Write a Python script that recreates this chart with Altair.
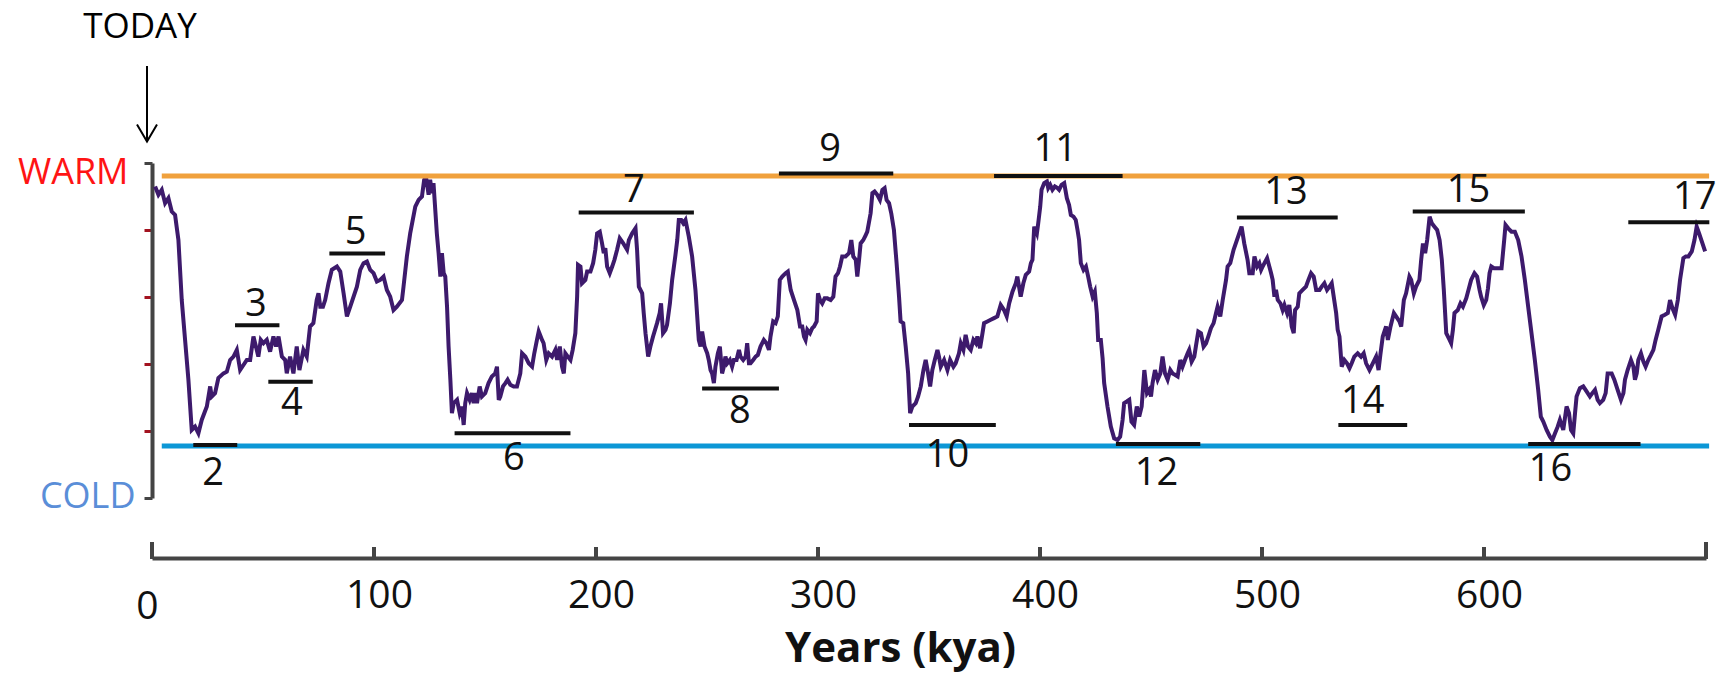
import altair as alt
import pandas as pd

# ---- Climate proxy curve: (kya, relative warmth; 0 = COLD ... 100 = WARM)
curve_0_117 = [
    (1.4, 93.0), (2.9, 90.5), (4.4, 92.0), (5.9, 88.0), (7.4, 89.5), (8.9, 85.5), (10.4, 84.5), (11.1, 81.0), (11.9, 77.0), (13.4, 59.1),
    (14.9, 47.2), (16.4, 35.3), (17.9, 20.3), (19.4, 21.3), (20.9, 19.3), (22.4, 23.3), (24.7, 27.3), (26.2, 33.3), (26.9, 30.3), (28.4, 31.3),
    (29.9, 35.8), (32.2, 37.2), (33.7, 37.7), (35.2, 41.2), (36.7, 42.2), (38.2, 44.2), (39.7, 38.2), (41.2, 39.7), (42.7, 41.2), (44.2, 41.2),
    (45.7, 48.2), (47.2, 44.2), (47.9, 42.2), (49.0, 47.2), (50.2, 46.2), (51.7, 47.2), (53.2, 43.7), (54.7, 48.2), (55.9, 45.2), (57.0, 48.2),
    (58.5, 42.2), (60.0, 41.2), (60.7, 37.2), (62.2, 42.2), (63.7, 37.2), (65.2, 45.2), (66.4, 38.2), (68.2, 44.2), (69.7, 42.2), (71.2, 51.2),
    (72.7, 52.2), (74.2, 59.1), (75.0, 61.1), (75.8, 57.1), (77.0, 57.1), (78.0, 59.1), (79.5, 64.1), (81.0, 68.1), (83.3, 69.1), (84.8, 67.6),
    (86.3, 61.1), (87.8, 54.2), (89.3, 57.1), (92.3, 63.1), (93.8, 68.1), (95.3, 70.1), (96.8, 70.6), (98.3, 68.1), (99.8, 67.1), (101.3, 64.6),
    (102.8, 65.1), (104.3, 66.1), (105.8, 62.1), (107.3, 60.1), (108.8, 56.1), (110.3, 57.1), (112.6, 59.1), (113.3, 63.1), (114.8, 72.1), (116.3, 79.0),
]
curve_118_240 = [
    (118.6, 87.0), (120.1, 89.0), (121.6, 90.0), (122.6, 95.0), (123.5, 95.5), (124.6, 90.5), (125.3, 95.0), (126.1, 91.0), (126.8, 94.0), (128.3, 79.0),
    (129.1, 73.1), (129.9, 66.1), (130.6, 73.1), (131.4, 67.1), (132.1, 66.1), (132.9, 57.1), (133.6, 45.2), (134.4, 35.3), (135.1, 25.3), (135.9, 28.3),
    (137.4, 29.3), (138.6, 25.3), (139.6, 27.3), (140.4, 21.8), (141.1, 28.3), (141.9, 31.3), (143.1, 29.3), (144.1, 31.3), (144.9, 28.3), (145.6, 31.3),
    (146.4, 28.3), (147.6, 33.3), (148.6, 30.3), (150.1, 31.3), (151.6, 34.3), (153.1, 36.3), (154.6, 37.2), (155.4, 39.2), (156.2, 29.3), (156.9, 30.3),
    (158.1, 33.3), (159.2, 34.3), (160.2, 35.3), (161.4, 33.8), (162.9, 33.3), (164.4, 33.3), (165.9, 37.2), (166.7, 43.2), (168.2, 42.2), (169.7, 40.2),
    (171.2, 39.2), (172.2, 43.2), (173.4, 47.2), (174.2, 49.7), (175.7, 47.2), (176.4, 46.2), (177.6, 41.2), (178.7, 43.2), (180.2, 42.2), (181.7, 44.2),
    (182.5, 41.2), (183.7, 45.2), (184.7, 39.2), (185.5, 37.2), (186.2, 43.2), (187.3, 42.2), (188.5, 41.2), (189.5, 44.2), (190.7, 49.2), (191.5, 60.1),
    (191.9, 69.6), (193.0, 69.1), (193.7, 64.1), (195.2, 65.1), (196.0, 67.6), (197.5, 67.6), (198.7, 70.1), (199.7, 74.1), (200.5, 79.0), (201.7, 79.5),
    (202.7, 76.1), (203.5, 73.1), (204.2, 74.6), (205.0, 69.1), (206.2, 67.1), (207.3, 69.1), (208.3, 71.1), (209.5, 74.1), (210.7, 77.5), (212.2, 76.1),
    (214.0, 74.1), (214.8, 77.0), (216.3, 79.0), (217.8, 80.5), (218.5, 74.1), (219.3, 63.1), (220.8, 61.1), (221.5, 55.2), (222.3, 49.2), (223.5, 42.2),
    (224.5, 45.2), (225.7, 48.2), (227.5, 52.2), (228.7, 55.2), (229.3, 58.1), (230.2, 49.2), (231.3, 50.2), (232.0, 51.7), (233.3, 58.1), (234.3, 65.1),
    (235.8, 72.6), (236.6, 77.0), (237.3, 83.0), (238.4, 83.0), (239.3, 82.0), (240.3, 83.0),
]
curve_241_365 = [
    (241.8, 78.0), (243.3, 72.1), (244.8, 62.1), (246.3, 47.2), (247.1, 45.2), (247.8, 49.7), (248.9, 45.2), (250.1, 43.2), (250.8, 41.2), (251.6, 38.2),
    (252.3, 37.2), (253.1, 34.3), (253.8, 39.2), (254.9, 43.2), (255.8, 45.2), (256.8, 37.2), (257.6, 39.2), (258.3, 42.2), (259.1, 40.2), (260.3, 41.2),
    (261.3, 39.2), (262.1, 41.2), (263.3, 41.2), (264.4, 44.2), (265.1, 42.2), (266.3, 41.2), (267.4, 42.2), (268.1, 46.2), (268.9, 40.2), (269.6, 40.2),
    (270.8, 41.2), (271.9, 42.2), (272.9, 42.7), (274.1, 45.2), (275.6, 47.2), (276.8, 46.2), (277.9, 44.2), (278.6, 48.2), (279.8, 52.7), (280.9, 52.2),
    (281.9, 54.2), (282.8, 65.1), (283.9, 66.1), (285.4, 67.1), (286.4, 67.6), (287.7, 62.1), (289.2, 59.1), (290.7, 56.1), (291.9, 51.2), (292.9, 51.2),
    (293.7, 48.2), (294.4, 47.2), (295.2, 50.2), (296.4, 49.2), (297.4, 50.7), (298.2, 51.2), (299.4, 52.7), (300.0, 61.1), (300.9, 59.1), (301.9, 58.1),
    (303.0, 59.6), (304.2, 59.6), (305.7, 59.1), (306.9, 60.1), (307.9, 66.1), (309.0, 67.1), (309.9, 69.1), (310.9, 72.1), (312.4, 72.1), (314.0, 73.1),
    (315.0, 77.0), (315.9, 72.1), (317.0, 71.1), (317.7, 66.1), (318.5, 71.1), (319.2, 76.0), (320.4, 77.0), (321.5, 78.5), (322.2, 79.5), (323.7, 85.0),
    (324.5, 91.0), (325.5, 91.5), (326.7, 90.5), (327.9, 89.0), (329.0, 92.0), (330.0, 92.5), (330.9, 89.0), (332.0, 88.0), (333.0, 85.0), (334.2, 80.0),
    (335.4, 70.1), (336.5, 60.1), (337.2, 52.7), (338.4, 52.2), (339.5, 45.2), (340.6, 37.2), (341.5, 25.3), (342.5, 27.3), (344.0, 28.3), (345.1, 30.3),
    (346.3, 33.3), (347.5, 38.2), (348.5, 41.2), (349.6, 37.2), (350.5, 33.3), (351.5, 38.2), (352.6, 41.2), (353.8, 44.2), (354.5, 42.2), (355.3, 39.2),
    (356.8, 41.2), (358.3, 38.2), (359.5, 41.2), (361.0, 39.2), (362.0, 40.2), (363.5, 43.2), (364.3, 46.2),
]
curve_365_486 = [
    (365.5, 44.2), (366.5, 48.7), (367.6, 45.2), (368.8, 44.2), (370.0, 47.2), (371.1, 46.2), (371.8, 48.2), (373.0, 44.7), (374.1, 49.2), (374.8, 52.2),
    (376.3, 52.7), (377.8, 53.2), (379.3, 53.7), (380.8, 54.2), (382.3, 57.6), (383.8, 56.1), (385.0, 54.2), (386.1, 58.1), (387.6, 61.6), (389.1, 64.1),
    (389.8, 66.1), (391.3, 60.1), (392.5, 64.1), (393.6, 66.6), (395.1, 67.6), (395.9, 70.1), (396.6, 71.1), (397.4, 81.0), (398.6, 79.0), (399.2, 82.0),
    (400.1, 87.0), (400.7, 92.0), (401.9, 94.0), (403.1, 94.5), (403.7, 92.5), (404.6, 93.5), (405.6, 92.0), (406.7, 93.0), (407.9, 92.5), (408.6, 92.0),
    (409.7, 93.5), (410.9, 94.0), (412.1, 89.5), (413.1, 87.5), (413.9, 84.5), (415.1, 84.0), (416.1, 83.0), (416.9, 80.0), (417.6, 77.0), (418.4, 70.1),
    (419.6, 68.1), (420.7, 69.1), (421.7, 66.1), (422.6, 63.1), (423.7, 60.1), (424.7, 61.6), (425.6, 55.2), (426.2, 47.2), (427.4, 47.2), (428.2, 41.7),
    (428.9, 34.3), (430.4, 27.3), (431.9, 21.3), (433.4, 17.8), (434.9, 17.3), (436.1, 18.3), (437.2, 23.3), (437.9, 28.3), (439.1, 28.8), (440.2, 29.3),
    (441.2, 22.8), (442.4, 21.8), (443.6, 27.3), (444.7, 24.3), (445.8, 27.3), (447.0, 38.2), (448.2, 31.3), (449.2, 32.3), (450.0, 30.3), (450.7, 34.3),
    (451.8, 38.2), (453.0, 35.3), (454.2, 37.2), (455.2, 42.2), (456.3, 37.2), (457.5, 35.3), (458.7, 38.2), (459.7, 37.2), (460.8, 36.8), (462.0, 36.3),
    (463.2, 41.2), (464.2, 39.2), (465.3, 41.2), (466.5, 43.2), (467.2, 44.2), (468.3, 40.7), (469.5, 42.2), (470.2, 45.2), (471.3, 49.7), (472.5, 49.2),
    (473.7, 45.2), (474.8, 46.2), (475.8, 48.2), (477.0, 50.7), (478.2, 52.2), (479.3, 55.2), (480.0, 57.1), (481.2, 54.2), (482.3, 59.1), (483.8, 65.1),
    (484.5, 69.1), (485.7, 70.1),
]
curve_487_605 = [
    (487.2, 74.1), (488.7, 77.0), (490.8, 81.0), (492.0, 76.0), (493.5, 71.1), (494.3, 67.1), (495.8, 67.1), (496.6, 72.1), (497.8, 69.1), (498.8, 70.1),
    (499.6, 68.1), (500.3, 69.1), (501.1, 70.1), (502.3, 71.6), (503.3, 69.1), (504.1, 67.1), (504.8, 65.1), (505.6, 60.1), (506.3, 62.1), (507.1, 59.1),
    (508.3, 58.1), (509.3, 56.1), (510.1, 57.6), (511.3, 55.2), (512.3, 57.6), (513.4, 51.2), (514.3, 49.2), (514.9, 56.1), (516.1, 57.1), (516.8, 61.1),
    (518.3, 62.1), (519.8, 63.1), (520.9, 65.1), (522.1, 67.1), (523.3, 66.1), (524.4, 62.1), (525.9, 62.1), (526.9, 63.1), (528.1, 64.1), (529.3, 62.1),
    (530.4, 63.1), (531.4, 64.1), (532.3, 60.1), (533.4, 55.2), (534.1, 50.2), (534.9, 48.2), (535.9, 39.2), (537.1, 41.2), (538.3, 40.2), (539.4, 38.7),
    (540.4, 40.2), (541.6, 42.2), (543.1, 43.2), (544.6, 42.2), (545.8, 43.2), (546.9, 40.2), (548.4, 38.2), (549.9, 40.2), (551.4, 42.2), (552.5, 38.2),
    (553.4, 43.2), (554.4, 48.2), (555.9, 51.2), (556.7, 47.2), (557.9, 51.2), (559.4, 55.2), (560.4, 54.2), (561.9, 52.7), (562.7, 51.2), (563.9, 59.1),
    (564.9, 61.1), (566.4, 66.1), (567.2, 65.1), (568.4, 61.1), (569.4, 63.1), (570.9, 65.1), (571.7, 71.1), (572.5, 76.0), (573.5, 73.1), (574.4, 77.0),
    (575.5, 84.0), (576.5, 82.0), (577.7, 81.0), (578.9, 80.0), (580.0, 77.0), (581.0, 71.1), (581.9, 62.1), (583.0, 49.2), (584.5, 47.2), (585.2, 46.2),
    (586.0, 50.2), (586.7, 55.2), (588.2, 56.1), (589.4, 58.1), (590.5, 57.1), (592.0, 59.6), (593.0, 62.1), (594.2, 65.1), (595.7, 67.1), (596.9, 66.1),
    (598.0, 62.1), (598.7, 60.1), (599.9, 57.6), (601.0, 59.1), (601.8, 62.6), (602.5, 67.1), (603.3, 69.1), (604.5, 68.6),
]
curve_606_700 = [
    (606.4, 68.6), (607.9, 68.6), (609.1, 77.0), (609.7, 81.5), (610.9, 80.5), (612.4, 79.5), (613.9, 79.5), (615.4, 77.0), (616.9, 72.1), (618.4, 65.1),
    (619.9, 57.1), (621.4, 49.2), (622.9, 41.2), (624.4, 32.3), (625.6, 24.3), (626.7, 22.8), (628.2, 20.3), (629.7, 18.3), (630.8, 17.3), (632.0, 19.3),
    (633.2, 21.3), (634.2, 23.3), (635.7, 20.3), (637.2, 27.3), (638.3, 25.3), (639.2, 20.3), (640.2, 19.3), (641.0, 25.3), (641.7, 30.3), (643.2, 32.8),
    (644.7, 33.3), (646.2, 31.8), (647.7, 30.3), (648.8, 31.3), (650.0, 32.3), (651.2, 29.3), (652.2, 28.3), (653.7, 29.3), (654.8, 31.3), (655.7, 37.2),
    (657.5, 37.2), (658.7, 35.3), (660.2, 32.3), (661.7, 29.3), (662.8, 31.3), (663.5, 35.3), (664.7, 38.2), (666.2, 41.2), (667.3, 39.2), (668.0, 35.3),
    (668.8, 37.2), (669.5, 41.2), (670.7, 43.2), (671.8, 40.7), (672.8, 39.2), (674.0, 41.2), (675.2, 42.7), (676.3, 44.2), (677.3, 47.2), (678.5, 50.2),
    (680.0, 54.2), (681.5, 54.7), (682.8, 55.2), (683.8, 59.1), (684.9, 56.6), (686.1, 54.7), (687.3, 59.1), (688.3, 65.1), (689.8, 71.6), (690.9, 72.1),
    (692.1, 72.1), (693.6, 73.6), (694.8, 77.0), (695.8, 81.0), (696.9, 79.0), (698.1, 76.6), (699.6, 73.6),
]

# ---- Marine isotope stages: bars and their numbers
STAGES      = ["2", "3", "4", "5", "6", "7", "8", "9", "10", "11", "12", "13", "14", "15", "16", "17"]
BAR_START   = [18.6, 37.4, 52.4, 79.9, 136.3, 192.2, 247.8, 282.4, 341.0, 379.3, 434.2, 488.7, 534.4, 567.9, 619.9, 665.0]
BAR_END     = [38.4, 57.4, 72.4, 105.0, 188.5, 244.1, 282.4, 333.9, 380.1, 437.2, 472.2, 534.1, 565.4, 618.4, 670.5, 701.5]
BAR_LEVEL   = [15.8, 51.6, 34.7, 73.0, 19.3, 85.2, 32.7, 96.9, 21.8, 96.1, 16.1, 83.7, 21.8, 85.5, 16.1, 82.3]
LABEL_KYA   = [27.5, 46.8, 63.0, 91.7, 163.0, 217.0, 264.8, 305.5, 358.3, 406.9, 452.5, 510.8, 545.4, 593.0, 630.0, 694.9]
LABEL_LEVEL = [7.2, 57.7, 28.0, 79.0, 11.6, 91.5, 25.8, 103.8, 12.6, 103.8, 7.2, 91.0, 28.7, 91.7, 8.4, 89.6]

# ---- Reference levels (warm / cold) and axes
REF_NAMES  = ["WARM", "COLD"]
REF_LEVELS = [96.1, 15.5]
REF_START  = [4.4, 4.4]
REF_END    = [701.4, 701.4]
X_LABELS   = [0, 100, 200, 300, 400, 500, 600]
X_INNER_TICKS = [100, 200, 300, 400, 500, 600]
X_END_TICKS   = [0, 700]
Y_TICKS    = [0, 20, 40, 60, 80, 100]
TODAY_AT   = [0]

PURPLE = "#3d1a6c"
ORANGE = "#f0a13d"
BLUE = "#0c97d6"
AXIS = "#444444"
INK = "#111111"
FONT = "Open Sans"

curve = pd.DataFrame(
    curve_0_117 + curve_118_240 + curve_241_365 + curve_365_486 + curve_487_605 + curve_606_700,
    columns=["kya", "warmth"],
)
bars = pd.DataFrame({"stage": STAGES, "start": BAR_START, "end": BAR_END, "level": BAR_LEVEL})
labels = pd.DataFrame({"stage": STAGES, "kya": LABEL_KYA, "level": LABEL_LEVEL})
refs = pd.DataFrame({"name": REF_NAMES, "level": REF_LEVELS, "start": REF_START, "end": REF_END})

xs = alt.Scale(domain=[0, 700], nice=False, zero=False)
ys = alt.Scale(domain=[0, 100], nice=False, zero=False)

x_axis = alt.Axis(
    values=X_LABELS, grid=False, ticks=False, tickSize=0, offset=60,
    domainColor=AXIS, domainWidth=4,
    labelFont=FONT, labelFontSize=39, labelColor=INK, labelFlush=False, labelOverlap=False,
    labelPadding={"condition": {"test": "datum.value == 0", "value": 29}, "value": 18},
    labelOffset={"condition": {"test": "datum.value == 0", "value": -5}, "value": 5},
    title="Years (kya)", titleFont=FONT, titleFontSize=42, titleFontWeight="bold", titleColor=INK,
    titleX=748, titleY=103, titleBaseline="alphabetic", titleAlign="center",
)
y_axis = alt.Axis(
    values=Y_TICKS, grid=False, title=None,
    domainColor=AXIS, domainWidth=4, tickSize=8, tickWidth=3,
    tickColor={"condition": {"test": "datum.value == 0 || datum.value == 100", "value": AXIS}, "value": "#a3121f"},
    labelExpr="datum.value == 100 ? 'WARM' : (datum.value == 0 ? 'COLD' : '')",
    labelFont=FONT, labelFontSize=36, labelFlush=False, labelOverlap=False,
    labelColor={"condition": {"test": "datum.value == 100", "value": "#ff1414"}, "value": "#5a8ed8"},
    labelOffset={"condition": {"test": "datum.value == 100", "value": 9}, "value": -2},
    labelPadding={"condition": {"test": "datum.value == 100", "value": 16}, "value": 9},
)


def X(field):
    return alt.X(field, scale=xs, axis=x_axis)


def Y(field):
    return alt.Y(field, scale=ys, axis=y_axis)


curve_layer = alt.Chart(curve).mark_line(color=PURPLE, strokeWidth=4).encode(
    x=X("kya:Q"), y=Y("warmth:Q"),
)

ref_layer = alt.Chart(refs).mark_rule(strokeWidth=5).encode(
    x=X("start:Q"), x2="end:Q", y=Y("level:Q"),
    color=alt.Color("name:N", scale=alt.Scale(domain=REF_NAMES, range=[ORANGE, BLUE]), legend=None),
)

bar_layer = alt.Chart(bars).mark_rule(color=INK, strokeWidth=4).encode(
    x=X("start:Q"), x2="end:Q", y=Y("level:Q"),
)

label_layer = alt.Chart(labels).mark_text(
    font=FONT, fontSize=38, color=INK, align="center", baseline="middle"
).encode(
    x=X("kya:Q"), y=Y("level:Q"), text="stage:N",
)

inner_ticks = alt.Chart(pd.DataFrame({"t": X_INNER_TICKS})).mark_rule(color=AXIS, strokeWidth=4).encode(
    x=X("t:Q"), y=alt.value(384), y2=alt.value(396),
)
end_ticks = alt.Chart(pd.DataFrame({"t": X_END_TICKS})).mark_rule(color=AXIS, strokeWidth=4).encode(
    x=X("t:Q"), y=alt.value(379), y2=alt.value(396),
)

today_text = alt.Chart(pd.DataFrame({"t": TODAY_AT, "txt": ["TODAY"]})).mark_text(
    font=FONT, fontSize=35, color="#000000", align="center", baseline="middle", dx=-12
).encode(
    x=X("t:Q"), y=alt.value(-136), text="txt:N",
)
today_shaft = alt.Chart(pd.DataFrame({"t": TODAY_AT})).mark_rule(color="#000000", strokeWidth=2).encode(
    x=alt.value(-5), y=alt.value(-97), y2=alt.value(-23),
)
today_head = alt.Chart(pd.DataFrame({"t": TODAY_AT})).mark_point(
    shape="M-1,-0.85L0,0.85L1,-0.85", size=400, filled=False, color="#000000", strokeWidth=2, opacity=1
).encode(
    x=alt.value(-5), y=alt.value(-30),
)

chart = alt.layer(
    curve_layer, ref_layer, bar_layer, label_layer, inner_ticks, end_ticks,
    today_text, today_shaft, today_head,
).properties(
    width=1554, height=335,
    padding={"left": 152, "top": 163, "right": 21, "bottom": 175},
    autosize=alt.AutoSizeParams(type="none"),
    background="white",
).configure(font=FONT, view=alt.ViewConfig(stroke=None))

chart.save("out.html", embed_options={"renderer": "svg", "actions": False})
